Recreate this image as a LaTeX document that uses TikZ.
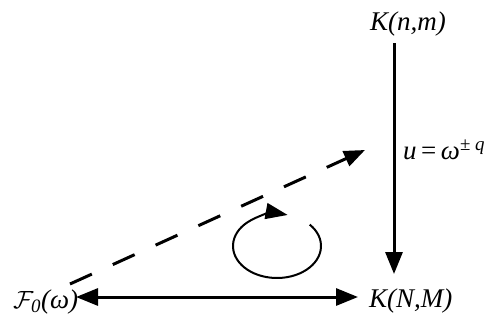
\documentclass[tikz,border=0pt]{standalone}
\usepackage{fontspec}
\setmainfont{Liberation Serif}
\usepackage{tikz}
\usetikzlibrary{arrows.meta,positioning}
\tikzset{
  lbl/.style={font=\fontsize{27}{31}\selectfont\itshape, inner sep=0pt},
  bigarr/.style={-{Triangle[length=22pt,width=17pt]}, line width=3pt},
  twoarr/.style={{Triangle[length=22pt,width=17pt]}-{Triangle[length=22pt,width=17pt]}, line width=3pt},
  dasharr/.style={-{Triangle[length=21pt,width=16pt]}, line width=3pt, dash pattern=on 24pt off 23pt},
  turnarr/.style={-{Triangle[length=22pt,width=16pt]}, line width=2pt},
}
\begin{document}
\begin{tikzpicture}[x=1pt,y=-1pt]
  \useasboundingbox (0,0) rectangle (486,327);
  % corner labels
  \node[lbl] (Knm) at (408,24) {K(n,m)};
  \node[lbl, anchor=west] (KNM) at (369,301) {K(N,M)};
  \node[lbl, anchor=west] (F0) at (13,302) {$\mathcal{F}_{\mathit{0}}$(ω)};
  \node[lbl, anchor=west] (ulbl) at (403,150) {u\,\textup{=}\,ω\textsuperscript{\textup{±} q}};
  % end points of the connectors
  \coordinate (vtop) at (394,43);
  \coordinate (vbot) at (394,274);
  \coordinate (hleft) at (76,297);
  \coordinate (hright) at (358,297);
  \coordinate (dstart) at (70,284);
  \coordinate (dend) at (365,150);
  \coordinate (turnc) at (277,246);
  % connectors
  \draw[bigarr] (vtop) -- (vbot);
  \draw[twoarr] (hleft) -- (hright);
  \draw[dasharr] (dstart) -- (dend);
  \draw[turnarr] (turnc) ++(-42:44 and 32) arc[start angle=-42, end angle=284, x radius=44, y radius=32];
\end{tikzpicture}
\end{document}
